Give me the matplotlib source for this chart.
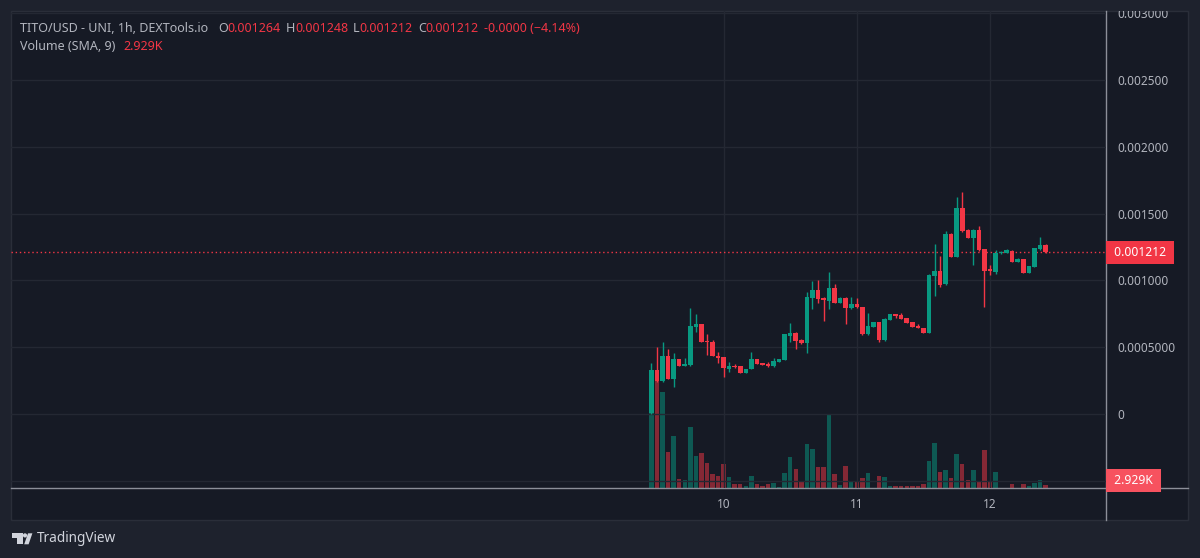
import matplotlib
matplotlib.use('Agg')
import matplotlib.pyplot as plt
from matplotlib.patches import Rectangle, Polygon, Circle
from matplotlib.lines import Line2D
from matplotlib.transforms import Affine2D

plt.rcParams['font.family'] = ['Noto Sans', 'DejaVu Sans']

# ---------------- data ----------------
hours = list(range(72))  # hourly candles, 9th 11:00 -> 12th 10:00
opens = [0.00001, 0.00033, 0.000249, 0.000437, 0.000262, 0.000412, 0.00036, 0.000367, 0.000654, 0.000674,
         0.000547, 0.000542, 0.000437, 0.000425, 0.000337, 0.00036, 0.00036, 0.000309, 0.000337, 0.000412,
         0.00038, 0.000375, 0.00036, 0.000389, 0.000404, 0.000587, 0.000609, 0.000554, 0.000534, 0.000871,
         0.000929, 0.000871, 0.000849, 0.000946, 0.000834, 0.000867, 0.000792, 0.000824, 0.000804, 0.000599,
         0.000654, 0.000687, 0.000554, 0.000704, 0.000747, 0.000742, 0.000717, 0.000687, 0.000661, 0.000646,
         0.000609, 0.001034, 0.001073, 0.000971, 0.001348, 0.001178, 0.001545, 0.001378, 0.00132, 0.001378,
         0.001233, 0.001084, 0.001066, 0.001203, 0.001208, 0.001223, 0.001141, 0.001159, 0.001058, 0.001103,
         0.001236, 0.001264]
highs = [0.00038, 0.0005, 0.000542, 0.000485, 0.000459, 0.000412, 0.000417, 0.000792, 0.000749, 0.000674,
         0.000599, 0.000554, 0.000467, 0.000425, 0.000392, 0.000375, 0.00036, 0.000337, 0.000462, 0.000412,
         0.00038, 0.000392, 0.000417, 0.000412, 0.000602, 0.000684, 0.000617, 0.000562, 0.000916, 0.000996,
         0.001004, 0.000879, 0.001066, 0.000974, 0.000874, 0.000874, 0.000879, 0.000867, 0.000804, 0.000754,
         0.000692, 0.000692, 0.000717, 0.000752, 0.000752, 0.000754, 0.000717, 0.000687, 0.000672, 0.000646,
         0.001045, 0.001273, 0.001183, 0.001371, 0.001353, 0.001623, 0.00166, 0.001383, 0.001383, 0.00141,
         0.001238, 0.001116, 0.001228, 0.00122, 0.001236, 0.001228, 0.001166, 0.001164, 0.001112, 0.001246,
         0.001323, 0.00127]
lows = [0.0, 0.00024, 0.00024, 0.00026, 0.000204, 0.00036, 0.00036, 0.00036, 0.000616, 0.000542,
        0.000442, 0.000432, 0.000384, 0.000279, 0.000317, 0.000345, 0.000305, 0.000305, 0.000337, 0.000375,
        0.000367, 0.000355, 0.000355, 0.000389, 0.000404, 0.000542, 0.000487, 0.000527, 0.000459, 0.000786,
        0.000829, 0.000699, 0.000786, 0.000829, 0.000834, 0.000674, 0.00079, 0.000795, 0.000595, 0.000595,
        0.000654, 0.000537, 0.00055, 0.000704, 0.000721, 0.000712, 0.000684, 0.000654, 0.000642, 0.000609,
        0.000605, 0.000886, 0.000954, 0.000966, 0.001173, 0.001173, 0.001365, 0.001315, 0.001116, 0.001223,
        0.000804, 0.001041, 0.001049, 0.0012, 0.001205, 0.001136, 0.001138, 0.001053, 0.001053, 0.001098,
        0.001231, 0.001207]
closes = [0.00033, 0.000249, 0.000437, 0.000262, 0.000412, 0.00036, 0.000375, 0.000659, 0.000674, 0.000542,
          0.000537, 0.000437, 0.000422, 0.000342, 0.00036, 0.000352, 0.000309, 0.000337, 0.000412, 0.000375,
          0.000367, 0.000362, 0.000399, 0.000412, 0.000597, 0.000609, 0.000549, 0.000534, 0.000879, 0.000929,
          0.000861, 0.000854, 0.000946, 0.000834, 0.000867, 0.000796, 0.000824, 0.000799, 0.000599, 0.000661,
          0.000687, 0.000554, 0.000712, 0.000747, 0.000734, 0.000714, 0.000684, 0.000654, 0.000642, 0.000609,
          0.001041, 0.001073, 0.000966, 0.001348, 0.001178, 0.001545, 0.001371, 0.00132, 0.001378, 0.001228,
          0.001073, 0.001071, 0.001208, 0.001215, 0.001228, 0.001141, 0.001161, 0.001058, 0.001108, 0.001241,
          0.001266, 0.001212]
volumes_k = [114, 126, 112, 41.9, 60.3, 10.8, 9.9, 71.1, 37.2, 40.7,
             29.5, 15.8, 14.6, 27.5, 12.6, 4.1, 4.1, 2.9, 14.6, 4.1,
             1.8, 4.1, 5.6, 0.9, 17.3, 36.0, 22.5, 8.0, 51.7, 45.9,
             24.3, 24.3, 86.0, 16.6, 3.7, 26.3, 8.0, 8.0, 11.9, 17.3,
             0.5, 13.8, 12.6, 2.9, 2.9, 2.9, 2.9, 2.9, 1.8, 4.1,
             31.4, 52.4, 18.5, 21.6, 11.9, 39.2, 27.5, 9.9, 21.6, 7.6,
             45.0, 6.8, 19.3, 0.5, 0.5, 4.1, 0.5, 4.9, 2.9, 6.1,
             8.8, 2.929]
day_ticks = [13, 37, 61]
day_labels = ['10', '11', '12']
price_ticks = [-0.0005, 0, 0.0005, 0.001, 0.0015, 0.002, 0.0025, 0.003]
price_labels = ['', '0', '0.0005000', '0.001000', '0.001500', '0.002000', '0.002500', '0.003000']
last_price = 0.001212
last_price_label = '0.001212'
last_volume_label = '2.929K'
header_title = 'TITO/USD - UNI, 1h, DEXTools.io'
header_ohlc = [('O', '0.001264'), ('H', '0.001248'), ('L', '0.001212'), ('C', '0.001212')]
header_change = '-0.0000 (\u22124.14%)'
volume_title = 'Volume (SMA, 9)'

# ---------------- style ----------------
UP = '#089981'
DOWN = '#f23645'
GREY = '#b2b5be'
OUTER = '#1e222d'
INNER = '#161a25'
GRID = '#242833'

W, H = 1200, 558
fig = plt.figure(figsize=(W / 100, H / 100), dpi=100, facecolor=OUTER)
pix = Affine2D().scale(1 / W, -1 / H).translate(0, 1) + fig.transFigure

panel = Rectangle((11, 11), 1188 - 11, 520 - 11, transform=pix, fc=INNER, ec='#2a2e39', lw=1, zorder=-5)
fig.add_artist(panel)

ax = fig.add_axes([11 / W, 1 - 488 / H, (1106 - 11) / W, (488 - 11) / H])
axv = ax.twinx()
ax.set_zorder(2)
axv.set_zorder(1)
ax.patch.set_visible(False)
axv.patch.set_visible(False)

ax.set_xlim(-115.4, 81.9)
ax.set_ylim(-0.000554, 0.003018)
axv.set_ylim(0, 477 * 1.17)
axv.set_yticks([])

for a in (ax, axv):
    for s in a.spines.values():
        s.set_visible(False)

# volume
vcols = [UP if c >= o else DOWN for o, c in zip(opens, closes)]
axv.bar(hours, volumes_k, width=0.8, color=vcols, alpha=0.5, linewidth=0)

# candles
ax.vlines(hours, lows, highs, colors=vcols, linewidth=1, zorder=3)
bottoms = [min(o, c) for o, c in zip(opens, closes)]
heights = [max(abs(c - o), 8e-6) for o, c in zip(opens, closes)]
ax.bar(hours, heights, bottom=bottoms, width=0.82, color=vcols, linewidth=0, zorder=4)

# last price line
ax.axhline(last_price, color=DOWN, lw=1, ls=(0, (1, 2)), zorder=1)

# grid / ticks
ax.set_xticks(day_ticks, day_labels)
ax.set_yticks(price_ticks, price_labels)
ax.yaxis.tick_right()
ax.grid(True, color=GRID, lw=1, zorder=0)
ax.set_axisbelow(True)
ax.tick_params(axis='x', length=0, pad=7, colors=GREY, labelsize=8.5)
ax.tick_params(axis='y', length=0, pad=8, colors=GREY, labelsize=8.5, right=False)
for lbl in ax.yaxis.get_majorticklabels():
    lbl.set_clip_on(True)
    lbl.set_clip_path(panel)

# frame lines
fig.add_artist(Line2D([11, 1188], [488, 488], transform=pix, color='#8c8f99', lw=1))
fig.add_artist(Line2D([1106, 1106], [11, 520], transform=pix, color='#8c8f99', lw=1))

# price / volume labels on the scale
ax.annotate(' ' + last_price_label + ' ', xy=(1, last_price), xycoords=('axes fraction', 'data'),
            xytext=(3.6, 0), textcoords='offset points', va='center', ha='left',
            color='white', fontsize=8.7, fontweight='bold', annotation_clip=False,
            bbox=dict(boxstyle='square,pad=0.4', fc=DOWN, ec='none'), zorder=10)
fig.text(1111, 480.5, ' ' + last_volume_label + ' ', transform=pix, va='center', ha='left',
         color='white', fontsize=8.7, fontweight='bold',
         bbox=dict(boxstyle='square,pad=0.4', fc='#f7525f', ec='none'), zorder=10)


# header legend (multi-coloured text chained one after another)
def chain(parts, x, y, size=9.0):
    prev = None
    for txt, col, gap in parts:
        if prev is None:
            prev = fig.text(x, y, txt, transform=pix, color=col, fontsize=size, va='center', ha='left')
        else:
            prev = ax.annotate(txt, xy=(1, 0), xycoords=prev, xytext=(gap, 0),
                               textcoords='offset points', va='bottom', ha='left',
                               color=col, fontsize=size, annotation_clip=False)


parts = [(header_title, GREY, 0)]
for i, (k, v) in enumerate(header_ohlc):
    parts.append((k, GREY, 7 if i == 0 else 3.6))
    parts.append((v, DOWN, 0))
parts.append((header_change, DOWN, 3.6))
chain(parts, 20, 29)
chain([(volume_title, GREY, 0), (last_volume_label, DOWN, 6)], 20, 46)

# TradingView logo
fig.add_artist(Polygon([[11.7, 533.3], [22.5, 533.3], [22.5, 544.3], [17.0, 544.3], [17.0, 537.6], [11.7, 537.6]],
                       closed=True, transform=pix, fc='#d1d4dc', ec='none'))
fig.add_artist(Circle((25.0, 535.4), 2.1, transform=pix, fc='#d1d4dc', ec='none'))
fig.add_artist(Polygon([[24.2, 544.3], [28.6, 544.3], [32.4, 533.3], [28.0, 533.3]],
                       closed=True, transform=pix, fc='#d1d4dc', ec='none'))
fig.text(37, 539, 'TradingView', transform=pix, color='#d1d4dc', fontsize=9.8, fontweight='semibold',
         va='center', ha='left')

fig.savefig('out.png', dpi=100, facecolor=OUTER)
